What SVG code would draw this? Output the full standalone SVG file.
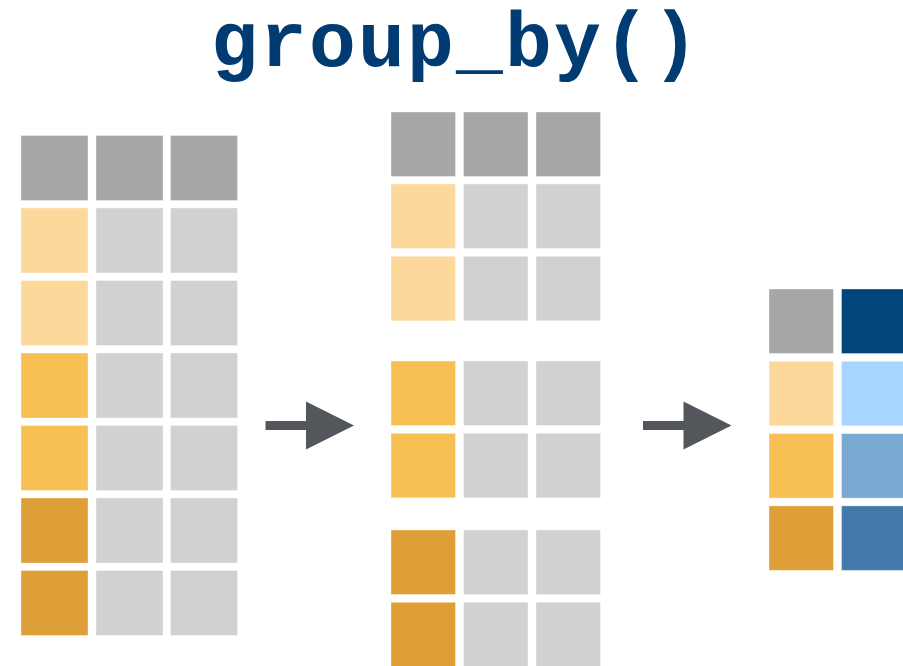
<svg xmlns="http://www.w3.org/2000/svg" width="903" height="666" viewBox="0 0 903 666">
  <style>
    .cell { stroke: #ffffff; stroke-opacity: 0.35; stroke-width: 1; }
    .hdr { fill: #a5a8a6; }
    .gry { fill: #d0d1d3; }
    .o1 { fill: #fdd89b; }
    .o2 { fill: #f8bf54; }
    .o3 { fill: #de9f38; }
    .b0 { fill: #00467a; }
    .b1 { fill: #a7d5ff; }
    .b2 { fill: #79a9d3; }
    .b3 { fill: #4279aa; }
    .title { font-family: "Liberation Mono", "Courier New", monospace; font-weight: bold; font-size: 78px; letter-spacing: 2.2px; fill: #003b72; }
    .arrow { fill: #53565b; }
  </style>
  <defs>
    <rect id="cw" width="67" height="65"/>
    <rect id="cs" width="64.5" height="64.5"/>
  </defs>

  <text class="title" x="456" y="66" text-anchor="middle">group_by()</text>

  <!-- ungrouped table -->
  <g id="table-input">
    <g class="cell">
      <use href="#cw" x="21" y="135.5" class="hdr"/>
      <use href="#cw" x="96" y="135.5" class="hdr"/>
      <use href="#cw" x="170.5" y="135.5" class="hdr"/>

      <use href="#cw" x="21" y="208" class="o1"/>
      <use href="#cw" x="96" y="208" class="gry"/>
      <use href="#cw" x="170.5" y="208" class="gry"/>

      <use href="#cw" x="21" y="280.5" class="o1"/>
      <use href="#cw" x="96" y="280.5" class="gry"/>
      <use href="#cw" x="170.5" y="280.5" class="gry"/>

      <use href="#cw" x="21" y="353" class="o2"/>
      <use href="#cw" x="96" y="353" class="gry"/>
      <use href="#cw" x="170.5" y="353" class="gry"/>

      <use href="#cw" x="21" y="425.5" class="o2"/>
      <use href="#cw" x="96" y="425.5" class="gry"/>
      <use href="#cw" x="170.5" y="425.5" class="gry"/>

      <use href="#cw" x="21" y="498" class="o3"/>
      <use href="#cw" x="96" y="498" class="gry"/>
      <use href="#cw" x="170.5" y="498" class="gry"/>

      <use href="#cw" x="21" y="570.5" class="o3"/>
      <use href="#cw" x="96" y="570.5" class="gry"/>
      <use href="#cw" x="170.5" y="570.5" class="gry"/>
    </g>
  </g>

  <!-- grouped table -->
  <g id="table-grouped">
    <g class="cell">
      <use href="#cs" x="391" y="112" class="hdr"/>
      <use href="#cs" x="463.5" y="112" class="hdr"/>
      <use href="#cs" x="536" y="112" class="hdr"/>

      <use href="#cs" x="391" y="184" class="o1"/>
      <use href="#cs" x="463.5" y="184" class="gry"/>
      <use href="#cs" x="536" y="184" class="gry"/>

      <use href="#cs" x="391" y="256.3" class="o1"/>
      <use href="#cs" x="463.5" y="256.3" class="gry"/>
      <use href="#cs" x="536" y="256.3" class="gry"/>

      <use href="#cs" x="391" y="361" class="o2"/>
      <use href="#cs" x="463.5" y="361" class="gry"/>
      <use href="#cs" x="536" y="361" class="gry"/>

      <use href="#cs" x="391" y="433.3" class="o2"/>
      <use href="#cs" x="463.5" y="433.3" class="gry"/>
      <use href="#cs" x="536" y="433.3" class="gry"/>

      <use href="#cs" x="391" y="530" class="o3"/>
      <use href="#cs" x="463.5" y="530" class="gry"/>
      <use href="#cs" x="536" y="530" class="gry"/>

      <use href="#cs" x="391" y="602.3" class="o3"/>
      <use href="#cs" x="463.5" y="602.3" class="gry"/>
      <use href="#cs" x="536" y="602.3" class="gry"/>
    </g>
  </g>

  <!-- summary table -->
  <g id="table-summary">
    <g class="cell">
      <use href="#cs" x="769" y="289" class="hdr"/>
      <use href="#cs" x="841.5" y="289" class="b0"/>

      <use href="#cs" x="769" y="361.3" class="o1"/>
      <use href="#cs" x="841.5" y="361.3" class="b1"/>

      <use href="#cs" x="769" y="433.6" class="o2"/>
      <use href="#cs" x="841.5" y="433.6" class="b2"/>

      <use href="#cs" x="769" y="505.9" class="o3"/>
      <use href="#cs" x="841.5" y="505.9" class="b3"/>
    </g>
  </g>

  <!-- arrows -->
  <g id="connectors">
    <path class="arrow" d="M265.5 421 H306 V401.5 L354 425.5 L306 449.5 V430 H265.5 Z"/>
    <path class="arrow" d="M643 421 H683.5 V401.5 L731.5 425.5 L683.5 449.5 V430 H643 Z"/>
  </g>
</svg>
